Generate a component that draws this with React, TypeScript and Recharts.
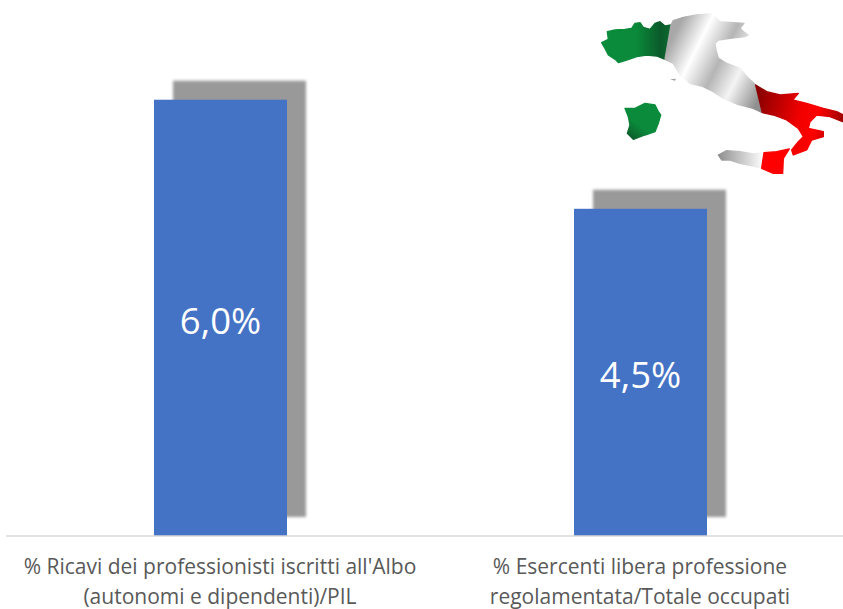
import React from 'react';
import { BarChart, Bar, XAxis, YAxis, LabelList } from 'recharts';

const categories = ['ricavi', 'esercenti'];
const values = [6.0, 4.5];
const tickLines: Record<string, string[]> = {
  ricavi: ["% Ricavi dei professionisti iscritti all'Albo", '(autonomi e dipendenti)/PIL'],
  esercenti: ['% Esercenti libera professione', 'regolamentata/Totale occupati'],
};

const chartData = categories.map((name, i) => ({ name, value: values[i] }));

const FONT = '"Open Sans", "Noto Sans", sans-serif';

// blue column with a grey blurred block behind it, up and to the right
function ShadowBar(props: any) {
  const { x, y, width, height, fill } = props;
  return (
    <g>
      <rect x={x + 19} y={y - 19} width={width} height={height} fill="#999999" style={{ filter: 'blur(1.6px)' }} />
      <rect x={x} y={y} width={width} height={height} fill={fill} />
    </g>
  );
}

function TwoLineTick(props: any) {
  const { x, payload } = props;
  const lines = tickLines[payload.value] || [];
  return (
    <g>
      {lines.map((line, i) => (
        <text key={i} x={x} y={574 + i * 29.5} textAnchor="middle" fontFamily={FONT} fontSize={21} fill="#595959">
          {line}
        </text>
      ))}
    </g>
  );
}

function ItalyMap() {
  const edge = { strokeWidth: 4, strokeLinejoin: 'round' as const };
  return (
    <svg
      width={253}
      height={190}
      viewBox="0 0 759 570"
      style={{ position: 'absolute', left: 590, top: 0, filter: 'blur(0.6px)' }}
    >
      <defs>
        <linearGradient id="north" x1="35" x2="243" y1="0" y2="0" gradientUnits="userSpaceOnUse">
          <stop offset="0" stopColor="#0a8c3c" />
          <stop offset="0.5" stopColor="#0a8a3a" />
          <stop offset="0.85" stopColor="#0b5a2a" />
          <stop offset="1" stopColor="#0c6a30" />
        </linearGradient>
        <linearGradient id="middle" x1="240" y1="130" x2="520" y2="270" gradientUnits="userSpaceOnUse">
          <stop offset="0" stopColor="#a8a8a8" />
          <stop offset="0.25" stopColor="#ffffff" />
          <stop offset="0.5" stopColor="#b5b5b5" />
          <stop offset="0.72" stopColor="#f4f4f4" />
          <stop offset="1" stopColor="#8f8f8f" />
        </linearGradient>
        <linearGradient id="south" x1="500" y1="300" x2="760" y2="360" gradientUnits="userSpaceOnUse">
          <stop offset="0" stopColor="#8a0000" />
          <stop offset="0.5" stopColor="#f00000" />
          <stop offset="0.7" stopColor="#ff0000" />
          <stop offset="1" stopColor="#9c0000" />
        </linearGradient>
        <linearGradient id="sicilyWhite" x1="385" x2="522" y1="0" y2="0" gradientUnits="userSpaceOnUse">
          <stop offset="0" stopColor="#8f8f8f" />
          <stop offset="1" stopColor="#ffffff" />
        </linearGradient>
        <linearGradient id="sardinia" x1="190" y1="320" x2="120" y2="415" gradientUnits="userSpaceOnUse">
          <stop offset="0" stopColor="#0a8c3c" />
          <stop offset="0.6" stopColor="#0a8a3a" />
          <stop offset="1" stopColor="#0b5a2a" />
        </linearGradient>
      </defs>
      <polygon
        fill="url(#north)"
        stroke="url(#north)"
        {...edge}
        points="35,128 55,118 52,95 75,90 105,88 125,85 135,70 150,68 160,82 180,88 195,70 210,65 225,78 243,75 225,178 200,168 170,165 140,170 110,180 85,188 78,180 55,165 45,145"
      />
      <polygon
        fill="url(#middle)"
        stroke="url(#middle)"
        {...edge}
        points="243,75 250,62 280,52 320,45 360,42 375,50 390,65 430,68 462,70 450,85 460,95 475,105 465,110 420,115 385,120 375,130 378,150 385,175 410,190 450,205 475,235 497,255 517,338 490,325 440,312 400,295 370,275 335,258 300,250 270,225 250,190 225,178"
      />
      <polygon
        fill="url(#south)"
        stroke="url(#south)"
        {...edge}
        points="497,255 530,275 570,285 625,280 608,300 650,310 700,325 740,335 760,345 758,365 720,350 680,345 660,365 655,385 700,395 700,410 665,420 650,450 610,465 605,450 625,425 640,410 625,385 590,360 550,345 517,338"
      />
      <polygon
        fill="url(#sicilyWhite)"
        stroke="url(#sicilyWhite)"
        {...edge}
        points="385,465 410,452 450,455 490,462 522,458 515,505 490,498 450,490 420,480 395,480"
      />
      <polygon fill="#ff0000" stroke="#ff0000" {...edge} points="522,458 560,455 598,447 580,475 578,520 550,520 515,505" />
      <polygon
        fill="url(#sardinia)"
        stroke="url(#sardinia)"
        {...edge}
        points="105,325 135,325 165,310 195,315 205,335 212,345 205,370 195,395 165,405 130,418 112,400 120,375 115,350"
      />
      <polygon fill="#a0a0a0" points="240,238 258,236 255,242" />
    </svg>
  );
}

export default function App() {
  return (
    <div style={{ position: 'absolute', left: 0, top: 0, width: 843, height: 609, overflow: 'hidden', background: '#fff' }}>
      <BarChart
        width={860}
        height={609}
        data={chartData}
        margin={{ top: 27, right: 10, bottom: 43, left: 6 }}
      >
        <YAxis hide domain={[0, 7]} />
        <XAxis
          dataKey="name"
          padding={{ left: 4, right: 0 }}
          tick={<TwoLineTick />}
          tickLine={false}
          axisLine={{ stroke: '#d9d9d9', strokeWidth: 1.5 }}
          interval={0}
        />
        <Bar dataKey="value" fill="#4472C4" barSize={133} shape={<ShadowBar />} isAnimationActive={false}>
          <LabelList
            dataKey="value"
            position="center"
            fill="#ffffff"
            fontFamily={FONT}
            fontSize={36.5}
            dy={3}
            formatter={(v: any) => `${Number(v).toFixed(1).replace('.', ',')}%`}
          />
        </Bar>
      </BarChart>
      <ItalyMap />
    </div>
  );
}
